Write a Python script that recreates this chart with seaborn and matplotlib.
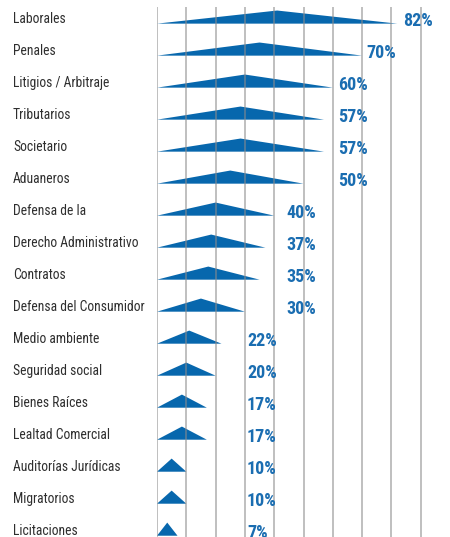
#!/usr/bin/env python3

import matplotlib
matplotlib.use('Agg')
import matplotlib.pyplot as plt
import matplotlib.transforms as mtransforms
import seaborn as sns


CATEGORIES = ['Laborales', 'Penales', 'Litigios / Arbitraje', 'Tributarios', 'Societario',
              'Aduaneros', 'Defensa de la', 'Derecho Administrativo', 'Contratos',
              'Defensa del Consumidor', 'Medio ambiente', 'Seguridad social', 'Bienes Raíces',
              'Lealtad Comercial', 'Auditorías Jurídicas', 'Migratorios', 'Licitaciones']
VALUES = [82, 70, 60, 57, 57, 50, 40, 37, 35, 30, 22, 20, 17, 17, 10, 10, 7]
LABELS = [f'{v}%' for v in VALUES]
GRID_TICKS = list(range(0, 100, 10))

# where each percentage label starts (x, in % units) - the source groups them
LABEL_X = [84, 71.6, 61.7, 61.7, 61.7, 61.7, 44.3, 44.3, 44.3, 44.3,
           30.7, 30.7, 30.7, 30.7, 30.7, 30.7, 30.7]

BLUE = '#0767ad'
TEXT_BLUE = '#1a6db1'
GREY = '#2e2e2e'
COND = ['Roboto Condensed', 'Roboto', 'DejaVu Sans']


def main():
    sns.set_style('white')
    plt.rcParams['font.family'] = COND

    fig = plt.figure(figsize=(4.5, 5.37), dpi=100)
    ax = fig.add_axes([157 / 450, 0, 1 - 157 / 450, 530 / 537])

    for i, (val, lab, lx) in enumerate(zip(VALUES, LABELS, LABEL_X)):
        base = i + 0.16
        apex = i - 0.25
        ax.fill([0, val / 2, val], [base, apex, base], color=BLUE, lw=0, zorder=2)
        ax.text(lx, i + 0.08, lab, color=TEXT_BLUE, fontsize=13, fontweight='bold',
                va='center', ha='left', zorder=4)

    trans = mtransforms.blended_transform_factory(fig.transFigure, ax.transData)
    for i, cat in enumerate(CATEGORIES):
        ax.text(13 / 450, i, cat, transform=trans, color=GREY, fontsize=9.8,
                va='center', ha='left')

    for t in GRID_TICKS:
        ax.axvline(t, color='#8c8c8c', lw=1.1, alpha=0.7, zorder=3)

    ax.set_xlim(0, 100)
    ax.set_ylim(16.2, -0.36)
    ax.set_xticks([])
    ax.set_yticks([])
    sns.despine(ax=ax, left=True, bottom=True)

    fig.savefig('out.png', dpi=100)


if __name__ == '__main__':
    main()
